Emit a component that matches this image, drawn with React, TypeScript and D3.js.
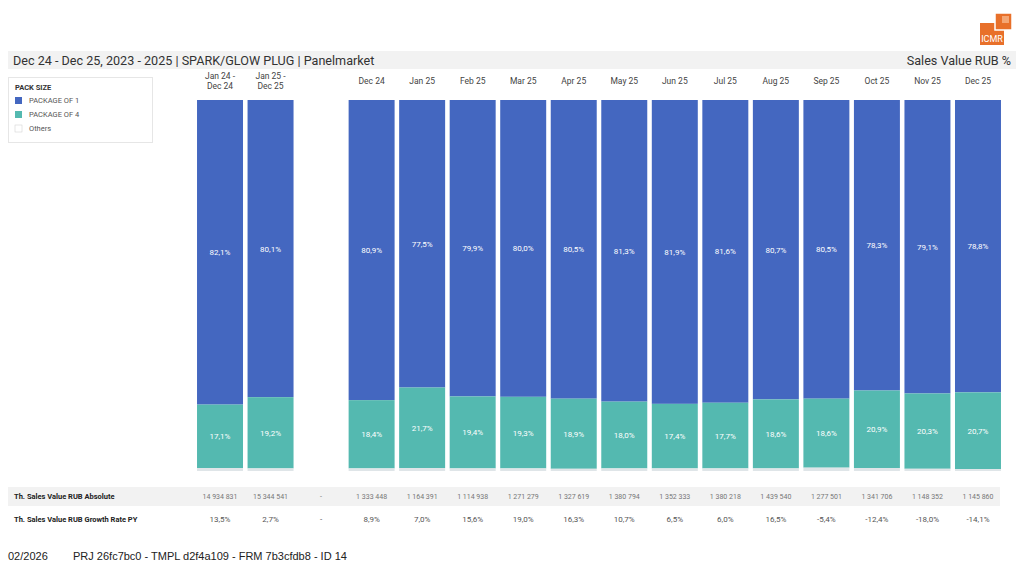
import React from 'react';
import * as d3 from 'd3';

const periods = ['Jan 24 -\nDec 24', 'Jan 25 -\nDec 25', '', 'Dec 24', 'Jan 25', 'Feb 25', 'Mar 25', 'Apr 25', 'May 25', 'Jun 25', 'Jul 25', 'Aug 25', 'Sep 25', 'Oct 25', 'Nov 25', 'Dec 25'];
const pack1 = [82.1, 80.1, null, 80.9, 77.5, 79.9, 80.0, 80.5, 81.3, 81.9, 81.6, 80.7, 80.5, 78.3, 79.1, 78.8];
const pack4 = [17.1, 19.2, null, 18.4, 21.7, 19.4, 19.3, 18.9, 18.0, 17.4, 17.7, 18.6, 18.6, 20.9, 20.3, 20.7];
const absolute = ['14 934 831', '15 344 541', '-', '1 333 448', '1 164 391', '1 114 938', '1 271 279', '1 327 619', '1 380 794', '1 352 333', '1 380 218', '1 439 540', '1 277 501', '1 341 706', '1 148 352', '1 145 860'];
const growth = ['13,5%', '2,7%', '-', '8,9%', '7,0%', '15,6%', '19,0%', '16,3%', '10,7%', '6,5%', '6,0%', '16,5%', '-5,4%', '-12,4%', '-18,0%', '-14,1%'];
const series = [
  { name: 'PACKAGE OF 1', color: '#4467c0' },
  { name: 'PACKAGE OF 4', color: '#54b9b0' },
  { name: 'Others', color: '#ffffff' },
];

const W = 1024;
const H = 574;
const font = 'Roboto, sans-serif';

const App: React.FC = () => {
  const keys = periods.map((_, i) => String(i));
  const x = d3.scaleBand<string>().domain(keys).range([194.5, 1003.5]).paddingInner(0.09).paddingOuter(0.05);
  const y = d3.scaleLinear().domain([0, 100]).range([471, 100]);
  const fmt = (v: number) => v.toFixed(1).replace('.', ',') + '%';

  return (
    <svg width={W} height={H} style={{ position: 'absolute', left: 0, top: 0, background: '#fff' }} fontFamily={font}>
      {/* logo */}
      <g>
        <rect x={980} y={23} width={24} height={22} fill="#e8702a" />
        <rect x={995} y={13} width={17} height={17} fill="#e8702a" stroke="#fff" strokeWidth={1.5} />
        <rect x={1002} y={16} width={7} height={7} fill="#f4a674" />
        <text x={992} y={42} fontSize={9} fill="#fff" textAnchor="middle">ICMR</text>
      </g>

      {/* title bar */}
      <rect x={8} y={51} width={1008} height={18} fill="#f2f2f2" />
      <text x={13} y={64.5} fontSize={12.6} fill="#333">Dec 24 - Dec 25, 2023 - 2025 | SPARK/GLOW PLUG | Panelmarket</text>
      <text x={1011} y={64.5} fontSize={12.6} fill="#333" textAnchor="end">Sales Value RUB %</text>

      {/* legend */}
      <rect x={8.5} y={77.5} width={144} height={65} fill="#fff" stroke="#e6e6e6" />
      <text x={15} y={90} fontSize={7.5} fontWeight="bold" fill="#333">PACK SIZE</text>
      {series.map((s, i) => (
        <g key={s.name} transform={`translate(15, ${97 + i * 14})`}>
          <rect x={0} y={0} width={7} height={7} fill={s.color} stroke={s.color === '#ffffff' ? '#ccc' : 'none'} strokeWidth={0.5} />
          <text x={14} y={6} fontSize={7.5} fill="#555">{s.name}</text>
        </g>
      ))}

      {/* column headers */}
      {periods.map((p, i) => {
        const cx = (x(String(i)) ?? 0) + x.bandwidth() / 2;
        const lines = p.split('\n');
        return (
          <text key={'h' + i} x={cx} fontSize={8.5} fill="#444" textAnchor="middle">
            {lines.map((l, j) => (
              <tspan key={j} x={cx} y={lines.length > 1 ? 79 + j * 10 : 84}>{l}</tspan>
            ))}
          </text>
        );
      })}

      {/* bars */}
      {periods.map((_, i) => {
        const a = pack1[i];
        const b = pack4[i];
        if (a == null || b == null) return null;
        const bx = x(String(i)) ?? 0;
        const bw = x.bandwidth();
        const cx = bx + bw / 2;
        const other = 100 - a - b;
        return (
          <g key={'b' + i}>
            <rect x={bx} y={y(100)} width={bw} height={y(other + b) - y(100)} fill={series[0].color} />
            <rect x={bx} y={y(other + b)} width={bw} height={y(other) - y(other + b)} fill={series[1].color} />
            <rect x={bx} y={y(other)} width={bw} height={y(0) - y(other)} fill="#dfe5e8" />
            <text x={cx} y={(y(100) + y(other + b)) / 2 + 3} fontSize={8} fill="#fff" textAnchor="middle">{fmt(a)}</text>
            <text x={cx} y={(y(other + b) + y(other)) / 2 + 3} fontSize={8} fill="#fff" textAnchor="middle">{fmt(b)}</text>
          </g>
        );
      })}

      {/* table */}
      <rect x={8} y={487} width={992} height={19} fill="#f2f2f2" />
      <text x={14} y={499} fontSize={7.5} fontWeight="bold" fill="#222">Th. Sales Value RUB Absolute</text>
      <text x={14} y={522} fontSize={7.5} fontWeight="bold" fill="#222">Th. Sales Value RUB Growth Rate PY</text>
      {periods.map((_, i) => {
        const cx = (x(String(i)) ?? 0) + x.bandwidth() / 2;
        return (
          <g key={'t' + i}>
            <text x={cx} y={499} fontSize={7} fill="#777" textAnchor="middle">{absolute[i]}</text>
            <text x={cx} y={522} fontSize={8} fill="#555" textAnchor="middle">{growth[i]}</text>
          </g>
        );
      })}

      {/* footer */}
      <text x={8} y={560} fontSize={11} fill="#222" fontFamily="'Liberation Sans', Arial, sans-serif">02/2026</text>
      <text x={73} y={560} fontSize={11} fill="#222" fontFamily="'Liberation Sans', Arial, sans-serif">PRJ 26fc7bc0 - TMPL d2f4a109 - FRM 7b3cfdb8 - ID 14</text>
    </svg>
  );
};

export default App;
